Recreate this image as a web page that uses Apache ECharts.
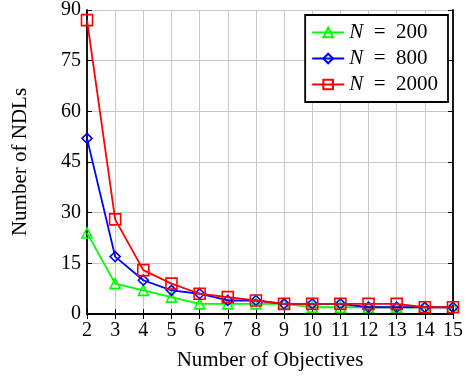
<!DOCTYPE html>
<html><head><meta charset="utf-8">
<script src="https://cdn.jsdelivr.net/npm/echarts@6/dist/echarts.min.js"></script>
<style>html,body{margin:0;padding:0;background:#fff}#c{width:466px;height:381px}</style>
</head><body><div id="c"></div>
<script>
const objectives = [2,3,4,5,6,7,8,9,10,11,12,13,14,15];
const n200  = [24,9,7,5,3,3,3,3,2,2,2,2,2,2];
const n800  = [52,17,10,7,6,4,4,3,3,3,2,2,2,2];
const n2000 = [87,28,13,9,6,5,4,3,3,3,3,3,2,2];
const seriesNames = ['N200','N800','N2000'];
const yTicks = [0,15,30,45,60,75,90];

const FONT = '"Liberation Serif","DejaVu Serif",serif';
const pairs = v => objectives.map((x,i)=>[x,v[i]]);
const tri = 'path://M0,-10L8.66,5L-8.66,5Z';
const dia = 'path://M0,-10L6,0L0,10L-6,0Z';
const sq = 'path://M-5,-5L5,-5L5,5L-5,5Z';
function mk(name, data, color, sym, size, z){
  return {name, type:'line', data:pairs(data), symbol:sym, symbolSize:size, z,
    lineStyle:{color, width:1.8}, itemStyle:{color:'rgba(0,0,0,0)', borderColor:color, borderWidth:1.6},
    emphasis:{disabled:true}, animation:false};
}
const chart = echarts.init(document.getElementById('c'));
const labelRich = {i:{fontFamily:FONT, fontStyle:'italic', fontSize:21, color:'#000', lineHeight:20}, r:{fontFamily:FONT, fontSize:21, color:'#000', lineHeight:20}};
const legendText = {N200:'{i|N}{r|  =  200}', N800:'{i|N}{r|  =  800}', N2000:'{i|N}{r|  =  2000}'};
chart.setOption({
  animation:false,
  grid:{left:87, right:10, top:8, bottom:67},
  legend:{
    data:seriesNames, orient:'vertical', right:18, top:15,
    backgroundColor:'#fff', borderColor:'#000', borderWidth:1.8,
    padding:[7,10,7,6], itemGap:5, itemWidth:32, itemHeight:12,
    formatter: n=>legendText[n], textStyle:{rich:labelRich}
  },
  xAxis:[{
    type:'value', min:2, max:15, interval:1,
    axisLine:{lineStyle:{color:'#000', width:1.8}},
    axisTick:{inside:true, length:5, lineStyle:{color:'#000'}},
    axisLabel:{fontFamily:FONT, fontSize:20, color:'#000', margin:7},
    splitLine:{show:true, lineStyle:{color:'#c8c8c8', width:1}},
    name:'Number of Objectives', nameLocation:'middle', nameGap:36,
    nameTextStyle:{fontFamily:FONT, fontSize:21, color:'#000'}
  },{
    type:'value', min:2, max:15, interval:1, position:'top',
    axisLine:{lineStyle:{color:'#000', width:1.8}},
    axisTick:{inside:true, length:5, lineStyle:{color:'#000'}},
    axisLabel:{show:false}, splitLine:{show:false}
  }],
  yAxis:[{
    type:'value', min:0, max:90, interval:15,
    axisLine:{show:true, lineStyle:{color:'#000', width:1.8}},
    axisTick:{show:true, inside:true, length:5, lineStyle:{color:'#000'}},
    axisLabel:{fontFamily:FONT, fontSize:20, color:'#000', margin:6, formatter:v=>String(v)},
    splitLine:{show:true, lineStyle:{color:'#c8c8c8', width:1}},
    name:'Number of NDLs', nameLocation:'middle', nameGap:56,
    nameTextStyle:{fontFamily:FONT, fontSize:21, color:'#000'}
  },{
    type:'value', min:0, max:90, interval:15, position:'right',
    axisLine:{show:true, lineStyle:{color:'#000', width:1.8}},
    axisTick:{show:true, inside:true, length:5, lineStyle:{color:'#000'}},
    axisLabel:{show:false}, splitLine:{show:false}
  }],
  series:[
    mk('N200', n200, '#00ff00', tri, 10, 2),
    mk('N800', n800, '#0000ff', dia, 10, 3),
    mk('N2000', n2000, '#ff0000', sq, 11, 4)
  ]
});
</script></body></html>
